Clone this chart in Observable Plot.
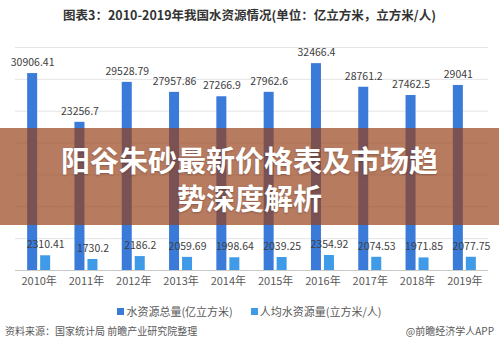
<!DOCTYPE html>
<html><head><meta charset="utf-8">
<script src="https://cdn.jsdelivr.net/npm/d3@7"></script>
<script src="https://cdn.jsdelivr.net/npm/@observablehq/plot@0.6"></script>
<style>
body{margin:0;width:499px;height:355px;background:#fff;font-family:"Noto Sans CJK SC","Noto Sans",sans-serif;position:relative;overflow:hidden}
#title{position:absolute;top:6px;left:0;width:499px;text-align:center;font-size:12.5px;font-weight:bold;color:#333;line-height:18px}
#chart{position:absolute;top:40px;left:0}
#legend{position:absolute;top:303px;left:0;width:499px;text-align:center;font-size:11px;color:#595959;line-height:16px}
#legend span.item{display:inline-block;margin:0 9px}
#legend i{display:inline-block;width:7px;height:7px;margin-right:2px;vertical-align:1px}
#source{position:absolute;top:324px;left:5px;font-size:10px;color:#595959;line-height:14px}
#app{position:absolute;top:324px;right:5px;font-size:10px;color:#595959;line-height:14px}
#banner{position:absolute;top:128px;left:0;width:499px;height:97px;background:rgba(150,64,24,0.69);color:#fff;text-align:center;font-weight:bold;font-size:29px;line-height:38px;padding-top:12px;box-sizing:border-box;text-shadow:0 1px 2px rgba(0,0,0,0.25)}
</style></head>
<body>
<div id="title">图表3：2010-2019年我国水资源情况(单位：亿立方米，立方米/人)</div>
<div id="chart"></div>
<div id="legend"></div>
<div id="source">资料来源：国家统计局 前瞻产业研究院整理</div>
<div id="app">@前瞻经济学人APP</div>
<div id="banner">阳谷朱砂最新价格表及市场趋<br>势深度解析</div>
<script>
const years = ["2010年","2011年","2012年","2013年","2014年","2015年","2016年","2017年","2018年","2019年"];
const totals = [30906.41, 23256.7, 29528.79, 27957.86, 27266.9, 27962.6, 32466.4, 28761.2, 27462.5, 29041];
const perCapita = [2310.41, 1730.2, 2186.2, 2059.69, 1998.64, 2039.25, 2354.92, 2074.53, 1971.85, 2077.75];
const seriesNames = ["水资源总量(亿立方米)", "人均水资源量(立方米/人)"];
const seriesColors = ["#3a7ad8", "#3f9be8"];
const yTicks = [0, 5000, 10000, 15000, 20000, 25000, 30000, 35000];

const data = years.flatMap((y, i) => [
  {year: y, series: seriesNames[0], value: totals[i]},
  {year: y, series: seriesNames[1], value: perCapita[i]}
]);

const chart = Plot.plot({
  width: 499,
  height: 255,
  marginTop: 7,
  marginBottom: 25,
  marginLeft: 15,
  marginRight: 11,
  style: {fontFamily: '"Noto Sans CJK SC", sans-serif', fontSize: "11px", color: "#595959", background: "transparent"},
  facet: {data, x: "year"},
  fx: {domain: years, padding: 0, round: false, label: null, axis: "bottom", tickSize: 0, tickPadding: 7},
  x: {domain: seriesNames, paddingInner: 0.23, paddingOuter: 0.935, round: false, axis: null},
  y: {domain: [0, 35000], axis: null},
  color: {domain: seriesNames, range: seriesColors},
  marks: [
    Plot.ruleY(yTicks.slice(1), {stroke: "#e4e4e4", strokeWidth: 1}),
    Plot.ruleY([0], {stroke: "#c9c9c9", strokeWidth: 1}),
    Plot.barY(data, {x: "series", y: "value", fill: "series"}),
    Plot.text(data, {x: "series", y: "value", text: d => String(d.value), dy: -11, fontSize: 10.5, fill: "#404040"})
  ]
});
document.getElementById("chart").appendChild(chart);

const legend = document.getElementById("legend");
seriesNames.forEach((name, i) => {
  const s = document.createElement("span");
  s.className = "item";
  const sw = document.createElement("i");
  sw.style.background = seriesColors[i];
  s.appendChild(sw);
  s.appendChild(document.createTextNode(name));
  legend.appendChild(s);
});
</script>
</body></html>
